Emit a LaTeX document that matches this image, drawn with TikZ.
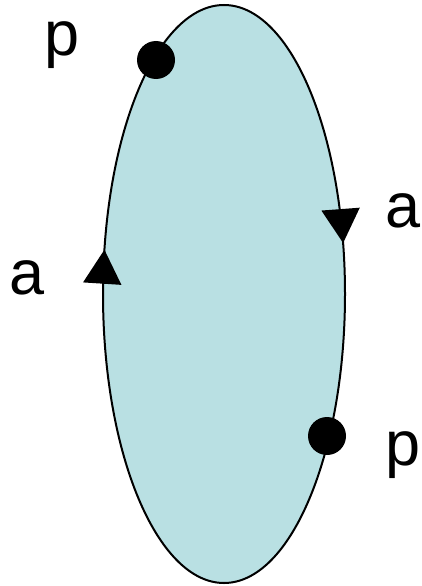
\documentclass[tikz,border=0pt]{standalone}
\usepackage{fontspec}
\setmainfont{Liberation Sans}
\usepackage{xcolor}
\usepackage{tikz}
\usetikzlibrary{arrows.meta,decorations.markings}
\definecolor{ovalfill}{RGB}{185,224,227}
\tikzset{
 lbl/.style={inner sep=0pt,anchor=base,font=\fontsize{63}{70}\selectfont},
 pt/.style={circle,fill=black,inner sep=0pt,minimum size=38pt}
}
\begin{document}
\begin{tikzpicture}[x=1pt,y=-1pt,>={Triangle[width=38pt,length=34pt]}]
\useasboundingbox(0,0)rectangle(421,586);
\path[fill=ovalfill,draw=black,line width=2pt,postaction={decorate},
decoration={markings,mark=at position 0.533 with {\arrow{>}},mark=at position 0.962 with {\arrow{>}}}]
(224,294)ellipse[x radius=121,y radius=289];
\node[pt](p1)at(156,60){};
\node[pt](p2)at(327,436){};
\node[lbl](lp1)at(62,56){p};
\node[lbl](lp2)at(403,465){p};
\node[lbl](la1)at(27,294){a};
\node[lbl](la2)at(403,227){a};
\end{tikzpicture}
\end{document}
